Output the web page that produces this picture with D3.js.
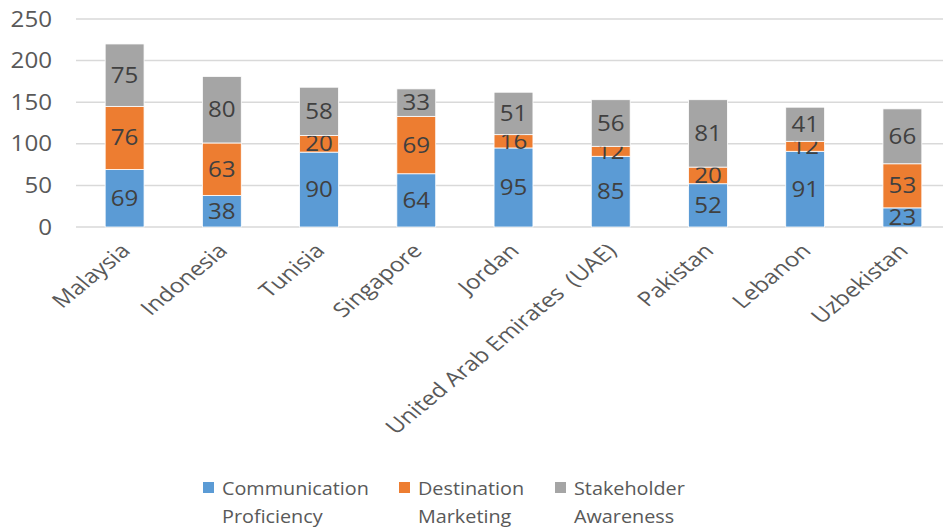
<!DOCTYPE html>
<html>
<head>
<meta charset="utf-8">
<style>
  body { margin: 0; background: #fff; }
  text { font-family: "Open Sans", "Noto Sans", sans-serif; white-space: pre; }
</style>
</head>
<body>
<svg id="chart"></svg>
<script src="https://cdnjs.cloudflare.com/ajax/libs/d3/7.8.5/d3.min.js"></script>
<script>
  // data
  var countries = ["Malaysia", "Indonesia", "Tunisia", "Singapore", "Jordan",
                   "United Arab Emirates  (UAE)", "Pakistan", "Lebanon", "Uzbekistan"];
  var communication = [69, 38, 90, 64, 95, 85, 52, 91, 23];
  var destination   = [76, 63, 20, 69, 16, 12, 20, 12, 53];
  var stakeholder   = [75, 80, 58, 33, 51, 56, 81, 41, 66];
  var seriesNames   = [["Communication", "Proficiency"], ["Destination", "Marketing"], ["Stakeholder", "Awareness"]];
  var yTicks        = [0, 50, 100, 150, 200, 250];

  var width  = 943,
      height = 528,
      stretch = 1.15,          // the original picture is a bit wider than tall
      colors = ["#5B9BD5", "#ED7D31", "#A5A5A5"];

  var svg = d3.select("#chart").attr("width", width).attr("height", height);

  var rows = countries.map(function(c, i) {
    return { country: c, comm: communication[i], dest: destination[i], stake: stakeholder[i] };
  });
  var stack = d3.stack().keys(["comm", "dest", "stake"])(rows);

  var x = d3.scaleBand().domain(countries).range([76, 951]).paddingInner(0.6).paddingOuter(0.3);
  var y = d3.scaleLinear().domain([0, 250]).range([227, 19]);

  // gridlines
  svg.append("g").selectAll("line").data(yTicks).enter().append("line")
      .attr("x1", 76).attr("x2", width)
      .attr("y1", function(d) { return y(d); }).attr("y2", function(d) { return y(d); })
      .attr("stroke", "#D9D9D9").attr("stroke-width", 1.5);

  // y tick labels
  svg.append("g").selectAll("text").data(yTicks).enter().append("text")
      .attr("transform", function(d) { return "translate(52," + (y(d) + 7.5) + ") scale(" + stretch + ",1)"; })
      .attr("text-anchor", "end").attr("font-size", 21).attr("fill", "#595959")
      .text(function(d) { return d; });

  // stacked bars
  var layer = svg.append("g").selectAll("g").data(stack).enter().append("g")
      .attr("fill", function(d, i) { return colors[i]; });

  layer.selectAll("rect").data(function(d) { return d; }).enter().append("rect")
      .attr("x", function(d) { return x(d.data.country); })
      .attr("width", x.bandwidth())
      .attr("y", function(d) { return y(d[1]); })
      .attr("height", function(d) { return y(d[0]) - y(d[1]); })
      .attr("stroke", "#fff").attr("stroke-width", 0.8);

  // value labels
  layer.selectAll("text").data(function(d) { return d; }).enter().append("text")
      .attr("transform", function(d) {
        var cx = x(d.data.country) + x.bandwidth() / 2;
        var cy = (y(d[0]) + y(d[1])) / 2 + 7.5;
        return "translate(" + cx + "," + cy + ") scale(" + stretch + ",1)";
      })
      .attr("text-anchor", "middle").attr("font-size", 21).attr("fill", "#404040")
      .text(function(d) { return d[1] - d[0]; });

  // category labels, rotated
  svg.append("g").selectAll("text").data(countries).enter().append("text")
      .attr("transform", function(d) {
        var cx = x(d) + x.bandwidth() / 2 + 7;
        return "translate(" + cx + ",252) scale(1.21,1) rotate(-45)";
      })
      .attr("text-anchor", "end").attr("font-size", 20).attr("fill", "#595959")
      .text(function(d) { return d; });

  // legend
  var legendX = [203, 399, 555];
  var legend = svg.append("g").selectAll("g").data(seriesNames).enter().append("g")
      .attr("transform", function(d, i) { return "translate(" + legendX[i] + ",0)"; });
  legend.append("rect").attr("x", 0).attr("y", 482).attr("width", 11).attr("height", 11)
      .attr("fill", function(d, i) { return colors[i]; });
  legend.append("text").attr("transform", "translate(19,495) scale(1.1,1)")
      .attr("font-size", 18).attr("fill", "#595959")
      .text(function(d) { return d[0]; });
  legend.append("text").attr("transform", "translate(19,523) scale(1.1,1)")
      .attr("font-size", 18).attr("fill", "#595959")
      .text(function(d) { return d[1]; });
</script>
</body>
</html>
